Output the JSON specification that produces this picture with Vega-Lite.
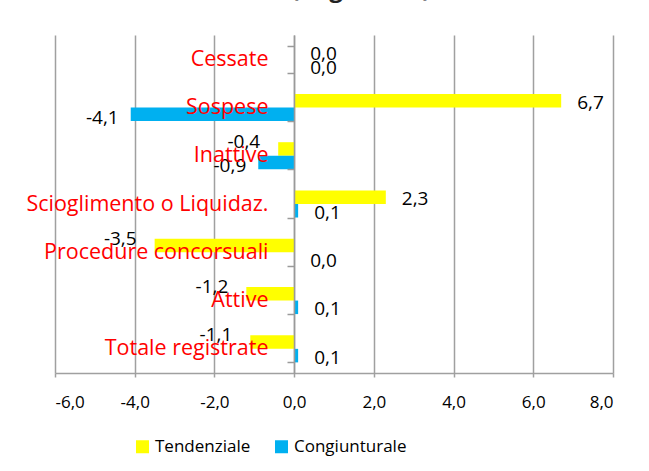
{
  "$schema": "https://vega.github.io/schema/vega-lite/v6.json",
  "width": 558,
  "height": 338,
  "autosize": {"type": "none"},
  "padding": {"left": 55, "top": 35, "right": 36, "bottom": 98},
  "background": "white",
  "title": {
    "text": "Stato (Registrate)",
    "font": "Open Sans",
    "fontSize": 24,
    "fontWeight": "bold",
    "color": "#222222",
    "baseline": "alphabetic",
    "offset": 12,
    "dy": 9,
    "dx": -8,
    "anchor": "middle"
  },
  "config": {
    "view": {"stroke": null},
    "font": "Open Sans",
    "locale": {
      "number": {
        "decimal": ",",
        "thousands": ".",
        "grouping": [3],
        "currency": ["€", ""],
        "minus": "-"
      }
    }
  },
  "data": {
    "values": [
      {"cat": "Cessate", "serie": "Tendenziale", "v": 0.0},
      {"cat": "Cessate", "serie": "Congiunturale", "v": 0.0},
      {"cat": "Sospese", "serie": "Tendenziale", "v": 6.7},
      {"cat": "Sospese", "serie": "Congiunturale", "v": -4.1},
      {"cat": "Inattive", "serie": "Tendenziale", "v": -0.4},
      {"cat": "Inattive", "serie": "Congiunturale", "v": -0.9},
      {"cat": "Scioglimento o Liquidaz.", "serie": "Tendenziale", "v": 2.3},
      {"cat": "Scioglimento o Liquidaz.", "serie": "Congiunturale", "v": 0.1},
      {"cat": "Procedure concorsuali", "serie": "Tendenziale", "v": -3.5},
      {"cat": "Procedure concorsuali", "serie": "Congiunturale", "v": 0.0},
      {"cat": "Attive", "serie": "Tendenziale", "v": -1.2},
      {"cat": "Attive", "serie": "Congiunturale", "v": 0.1},
      {"cat": "Totale registrate", "serie": "Tendenziale", "v": -1.1},
      {"cat": "Totale registrate", "serie": "Congiunturale", "v": 0.1}
    ]
  },
  "encoding": {
    "y": {
      "field": "cat",
      "type": "nominal",
      "sort": null,
      "scale": {"paddingInner": 0.44, "paddingOuter": 0.22},
      "axis": {
        "title": null,
        "orient": "left",
        "offset": -239,
        "zindex": 1,
        "domainColor": "#9a9a9a",
        "domainWidth": 1.5,
        "tickColor": "#9a9a9a",
        "tickWidth": 1.5,
        "tickSize": 7,
        "tickBand": "extent",
        "labelColor": "#ff0000",
        "labelFont": "Open Sans",
        "labelFontSize": 21.5,
        "labelPadding": 19,
        "labelLimit": 400,
        "grid": false
      }
    },
    "yOffset": {
      "field": "serie",
      "type": "nominal",
      "sort": ["Tendenziale", "Congiunturale"]
    },
    "x": {
      "field": "v",
      "type": "quantitative",
      "scale": {"domain": [-6, 8], "nice": false, "zero": false},
      "axis": {
        "title": null,
        "values": [-6, -4, -2, 0, 2, 4, 6, 8],
        "format": ".1f",
        "grid": true,
        "gridColor": "#a0a0a0",
        "gridWidth": 1.5,
        "domainColor": "#a0a0a0",
        "domainWidth": 1.5,
        "tickColor": "#a0a0a0",
        "tickWidth": 1.5,
        "tickSize": 4,
        "labelColor": "#000000",
        "labelFont": "Open Sans",
        "labelFontSize": 17,
        "labelPadding": 17
      }
    }
  },
  "layer": [
    {
      "mark": {"type": "bar"},
      "encoding": {
        "color": {
          "field": "serie",
          "type": "nominal",
          "scale": {
            "domain": ["Tendenziale", "Congiunturale"],
            "range": ["#ffff00", "#00b0f0"]
          },
          "legend": {
            "title": null,
            "orient": "none",
            "direction": "horizontal",
            "legendX": 79,
            "legendY": 403,
            "symbolType": "square",
            "symbolSize": 169,
            "symbolStrokeWidth": 0,
            "labelFont": "Open Sans",
            "labelFontSize": 17,
            "labelColor": "#000000",
            "labelOffset": 4,
            "columnPadding": 22
          }
        }
      }
    },
    {
      "transform": [{"filter": "datum.v < 0 && datum.serie == 'Tendenziale'"}],
      "mark": {"type": "text", "align": "right", "dx": -18, "dy": -7, "fontSize": 19, "font": "Open Sans", "color": "#000000"},
      "encoding": {"text": {"field": "v", "type": "quantitative", "format": ".1f"}}
    },
    {
      "transform": [{"filter": "datum.v < 0 && datum.serie == 'Congiunturale'"}],
      "mark": {"type": "text", "align": "right", "dx": -12, "dy": 4, "fontSize": 19, "font": "Open Sans", "color": "#000000"},
      "encoding": {"text": {"field": "v", "type": "quantitative", "format": ".1f"}}
    },
    {
      "transform": [{"filter": "datum.v >= 0"}],
      "mark": {"type": "text", "align": "left", "dx": 16, "dy": 2, "fontSize": 19, "font": "Open Sans", "color": "#000000"},
      "encoding": {"text": {"field": "v", "type": "quantitative", "format": ".1f"}}
    }
  ]
}
